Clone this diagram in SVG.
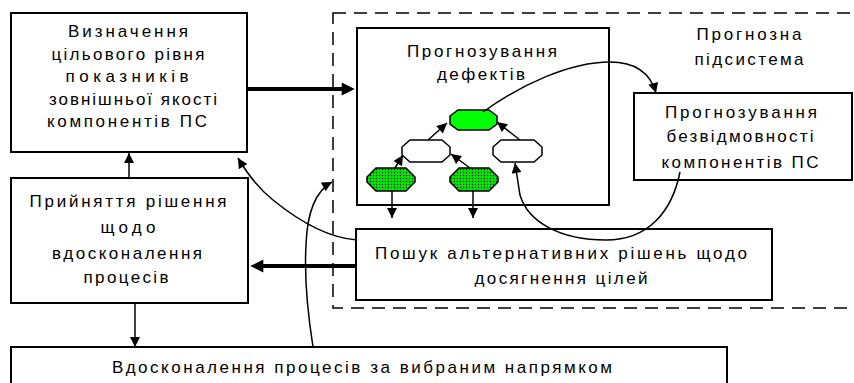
<svg xmlns="http://www.w3.org/2000/svg" width="854" height="383" viewBox="0 0 854 383">
<style>
.box{fill:#fff;stroke:#000;stroke-width:2}
.t{font-family:"Liberation Sans",Arial,sans-serif;font-size:17px;fill:#000;text-anchor:middle}
.c{fill:none;stroke:#000;stroke-width:1.5}
.thick{fill:none;stroke:#000;stroke-width:4}
.oct{stroke:#000;stroke-width:1.5}
</style>
<defs>
<marker id="a" viewBox="0 0 10 10" refX="10" refY="5" markerWidth="12" markerHeight="10" markerUnits="userSpaceOnUse" orient="auto"><path d="M0,0 L10,5 L0,10 z" fill="#000"/></marker>
<marker id="b" viewBox="0 0 10 10" refX="1" refY="5" markerWidth="15" markerHeight="13" markerUnits="userSpaceOnUse" orient="auto"><path d="M0,0 L10,5 L0,10 z" fill="#000"/></marker>
<pattern id="dots" width="3" height="3" patternUnits="userSpaceOnUse"><rect width="3" height="3" fill="#00e800"/><circle cx="1.5" cy="1.5" r="0.7" fill="#000"/></pattern>
</defs>
<g id="subsystem"><rect x="333" y="13" width="540" height="295" fill="none" stroke="#000" stroke-width="1.5" stroke-dasharray="13,8"/>
<text class="t" x="749" y="40" textLength="105" lengthAdjust="spacing">Прогнозна</text>
<text class="t" x="749" y="65" textLength="109" lengthAdjust="spacing">підсистема</text></g>
<g id="n1"><rect class="box" x="11" y="13" width="236" height="139"/>
<text class="t" x="128" y="37" textLength="120" lengthAdjust="spacing">Визначення</text>
<text class="t" x="128" y="60" textLength="153" lengthAdjust="spacing">цільового рівня</text>
<text class="t" x="127" y="82" textLength="123" lengthAdjust="spacing">показників</text>
<text class="t" x="133" y="105" textLength="168" lengthAdjust="spacing">зовнішньої якості</text>
<text class="t" x="127" y="127" textLength="160" lengthAdjust="spacing">компонентів ПС</text></g>
<g id="n2"><rect class="box" x="11" y="178" width="237" height="125"/>
<text class="t" x="128" y="207" textLength="197" lengthAdjust="spacing">Прийняття рішення</text>
<text class="t" x="128" y="233" textLength="55" lengthAdjust="spacing">щодо</text>
<text class="t" x="127" y="259" textLength="150" lengthAdjust="spacing">вдосконалення</text>
<text class="t" x="126" y="283" textLength="85" lengthAdjust="spacing">процесів</text></g>
<g id="n3"><rect class="box" x="11" y="347" width="716" height="45"/>
<text class="t" x="362" y="373" textLength="500" lengthAdjust="spacing">Вдосконалення процесів за вибраним напрямком</text></g>
<g id="n4"><rect class="box" x="357" y="28" width="252" height="177"/>
<text class="t" x="482" y="57" textLength="150" lengthAdjust="spacing">Прогнозування</text>
<text class="t" x="481" y="80" textLength="88" lengthAdjust="spacing">дефектів</text></g>
<g id="n5"><rect class="box" x="634" y="93" width="218" height="87"/>
<text class="t" x="741" y="118" textLength="152" lengthAdjust="spacing">Прогнозування</text>
<text class="t" x="740" y="142" textLength="147" lengthAdjust="spacing">безвідмовності</text>
<text class="t" x="740" y="168" textLength="157" lengthAdjust="spacing">компонентів ПС</text></g>
<g id="n6"><rect class="box" x="356" y="229" width="416" height="71"/>
<text class="t" x="561" y="259" textLength="372" lengthAdjust="spacing">Пошук альтернативних рішень щодо</text>
<text class="t" x="561" y="284" textLength="173" lengthAdjust="spacing">досягнення цілей</text></g>
<g id="tree">
<polygon class="oct" fill="#00ff00" points="458,110 489,110 497,116 497,124 489,130 458,130 450,124 450,116"/>
<polygon class="oct" fill="#fff" points="410,140 442,140 450,147 450,155 442,162 410,162 402,155 402,147"/>
<polygon class="oct" fill="#fff" points="501,140 534,140 542,147 542,155 534,162 501,162 493,155 493,147"/>
<polygon class="oct" fill="url(#dots)" points="376,168 406,168 415,177 415,182 406,191 376,191 367,182 367,177"/>
<polygon class="oct" fill="url(#dots)" points="459,168 489,168 498,177 498,182 489,191 459,191 450,182 450,177"/>
</g>
<g id="connectors">
<path class="thick" d="M247,89 H343" marker-end="url(#b)"/>
<path class="thick" d="M356,266 H262" marker-end="url(#b)"/>
<path class="c" d="M129,178 V153" marker-end="url(#a)"/>
<path class="c" d="M135,303 V347" marker-end="url(#a)"/>
<path class="c" d="M392,191 V218" marker-end="url(#a)"/>
<path class="c" d="M473,191 V218" marker-end="url(#a)"/>
<path class="c" d="M395,168 L403,155" marker-end="url(#a)"/>
<path class="c" d="M470,168 L451,154" marker-end="url(#a)"/>
<path class="c" d="M428,140 L447,123" marker-end="url(#a)"/>
<path class="c" d="M520,140 L497,122" marker-end="url(#a)"/>
<path class="c" d="M483,112 C520,85 570,62 610,62 C635,62 650,72 656,93" marker-end="url(#a)"/>
<path class="c" d="M680,172 C672,212 648,240 606,240 C560,240 528,222 520,195 L515,163" marker-end="url(#a)"/>
<path class="c" d="M357,240 C330,238 300,222 273,200 C258,188 248,175 238,158" marker-end="url(#a)"/>
<path class="c" d="M313,347 C308,315 304,280 306,245 C307,215 314,192 332,182" marker-end="url(#a)"/>
</g>
</svg>
